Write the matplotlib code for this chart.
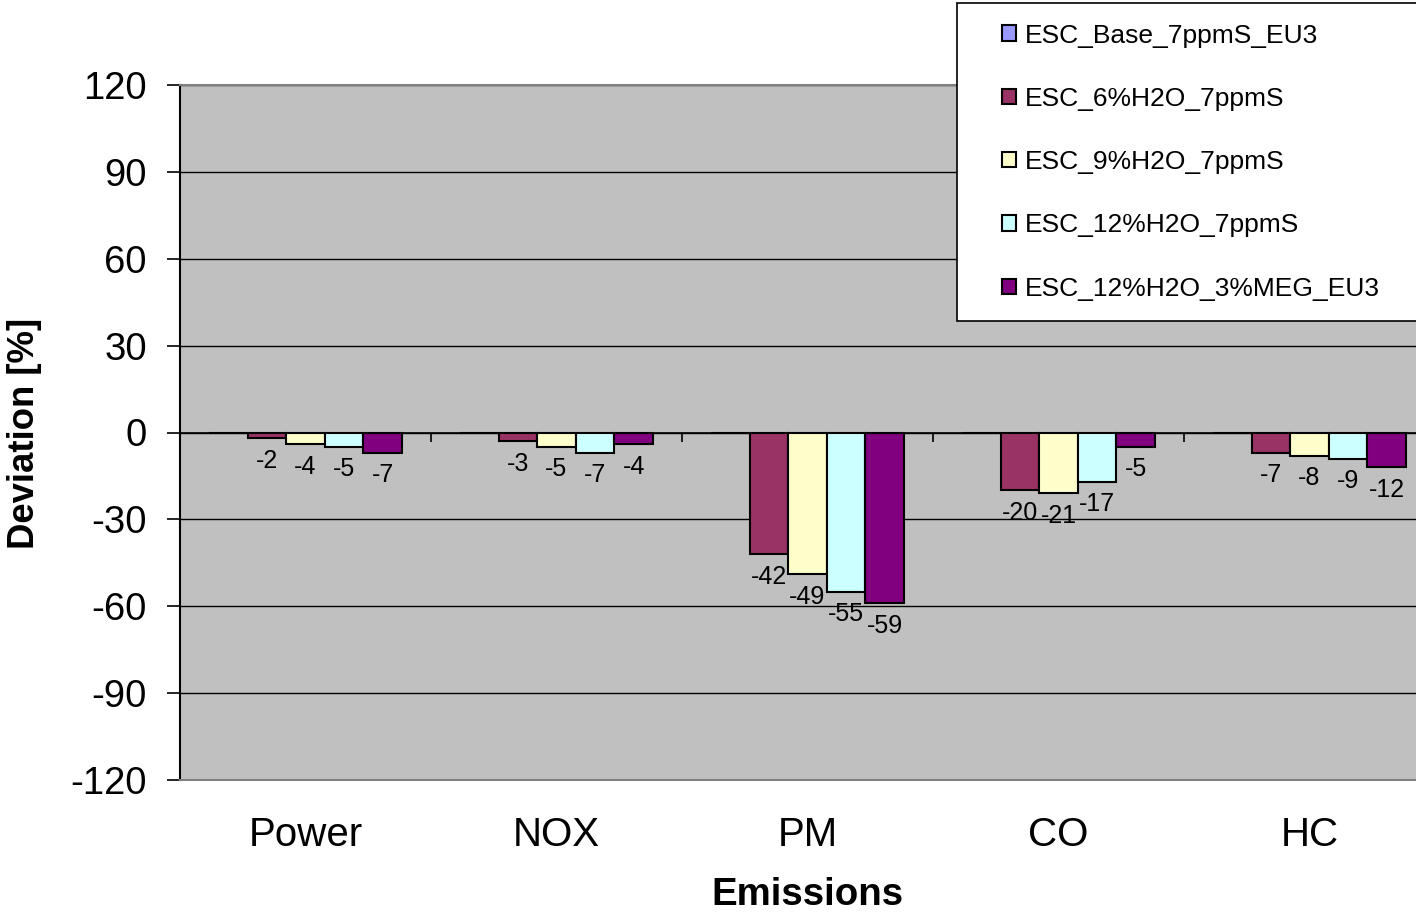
import numpy as np
import matplotlib
matplotlib.use("Agg")
import matplotlib.pyplot as plt
from matplotlib.patches import Rectangle

plt.rcParams['font.family'] = ['Liberation Sans', 'DejaVu Sans']
plt.rcParams['axes.unicode_minus'] = False

# emissions deviation from the base fuel, in percent
categories = ['Power', 'NOX', 'PM', 'CO', 'HC']
series = ['ESC_Base_7ppmS_EU3', 'ESC_6%H2O_7ppmS', 'ESC_9%H2O_7ppmS',
          'ESC_12%H2O_7ppmS', 'ESC_12%H2O_3%MEG_EU3']
base = [0, 0, 0, 0, 0]
h2o_6 = [-2, -3, -42, -20, -7]
h2o_9 = [-4, -5, -49, -21, -8]
h2o_12 = [-5, -7, -55, -17, -9]
h2o_12_meg = [-7, -4, -59, -5, -12]
values = [base, h2o_6, h2o_9, h2o_12, h2o_12_meg]
colors = ['#9999FF', '#993366', '#FFFFCC', '#CCFFFF', '#800080']
yticks = list(range(-120, 121, 30))

W, H = 1416, 914
fig = plt.figure(figsize=(W / 100, H / 100), dpi=100)
fig.set_facecolor('white')

# plot area runs a little past the right edge of the image
ax = fig.add_axes([180 / W, (H - 780) / H, 1255 / W, 695 / H])
ax.set_facecolor('#C0C0C0')

x = np.arange(len(categories))
n = len(series)
width = 1 / (n + 1.5)
bars = []
for i, (name, vals, col) in enumerate(zip(series, values, colors)):
    b = ax.bar(x + (i - (n - 1) / 2) * width, vals, width, color=col,
               edgecolor='black', linewidth=1.5, label=name, zorder=3)
    bars.append(b)
    if i == 0:
        continue
    for rect, v in zip(b, vals):
        ax.annotate(f'{v}', (rect.get_x() + rect.get_width() / 2, v),
                    xytext=(0, -21.2), textcoords='offset points',
                    ha='center', va='baseline', fontsize=18, zorder=4)

ax.set_xlim(-0.5, len(categories) - 0.5)
ax.set_ylim(yticks[0], yticks[-1])
ax.set_yticks(yticks)
ax.set_axisbelow(True)
ax.yaxis.grid(True, color='black', linewidth=1.0)

# zero line with small marks between the category groups
ax.axhline(0, color='black', linewidth=1.2, zorder=2)
ax.vlines(np.arange(1, len(categories)) - 0.5, -3.4, 0, color='black',
          linewidth=1.2, zorder=2)

ax.set_xticks(x)
ax.set_xticklabels(categories, fontsize=29)
ax.tick_params(axis='x', length=0, pad=26)
ax.tick_params(axis='y', direction='out', length=9.4, width=1.2, pad=14.5,
               labelsize=27.5, colors='black')

for side in ['top', 'bottom', 'right']:
    ax.spines[side].set_color('#808080')
    ax.spines[side].set_linewidth(1.5)
ax.spines['left'].set_color('black')
ax.spines['left'].set_linewidth(1.5)

fig.text(25 / W, 1 - 433 / H, 'Deviation [%]', rotation=90, ha='center',
         va='center', fontsize=26.3, fontweight='bold')
fig.text(807.5 / W, 1 - 905 / H, 'Emissions', ha='center', va='baseline',
         fontsize=27.6, fontweight='bold')

# legend box, open on the right
fig.add_artist(Rectangle((957 / W, 1 - 321 / H), 500 / W, 318 / H,
                         transform=fig.transFigure, facecolor='white',
                         edgecolor='black', linewidth=1.2, zorder=1))
fig.legend(handles=bars, labels=series, loc='upper left',
           bbox_to_anchor=(1002 / W, 1 - 23.5 / H), bbox_transform=fig.transFigure,
           frameon=False, borderpad=0, borderaxespad=0, fontsize=19,
           handlelength=0.52, handleheight=0.52, handletextpad=0.36,
           labelspacing=1.49)

fig.savefig('out.png', dpi=100, facecolor='white')
